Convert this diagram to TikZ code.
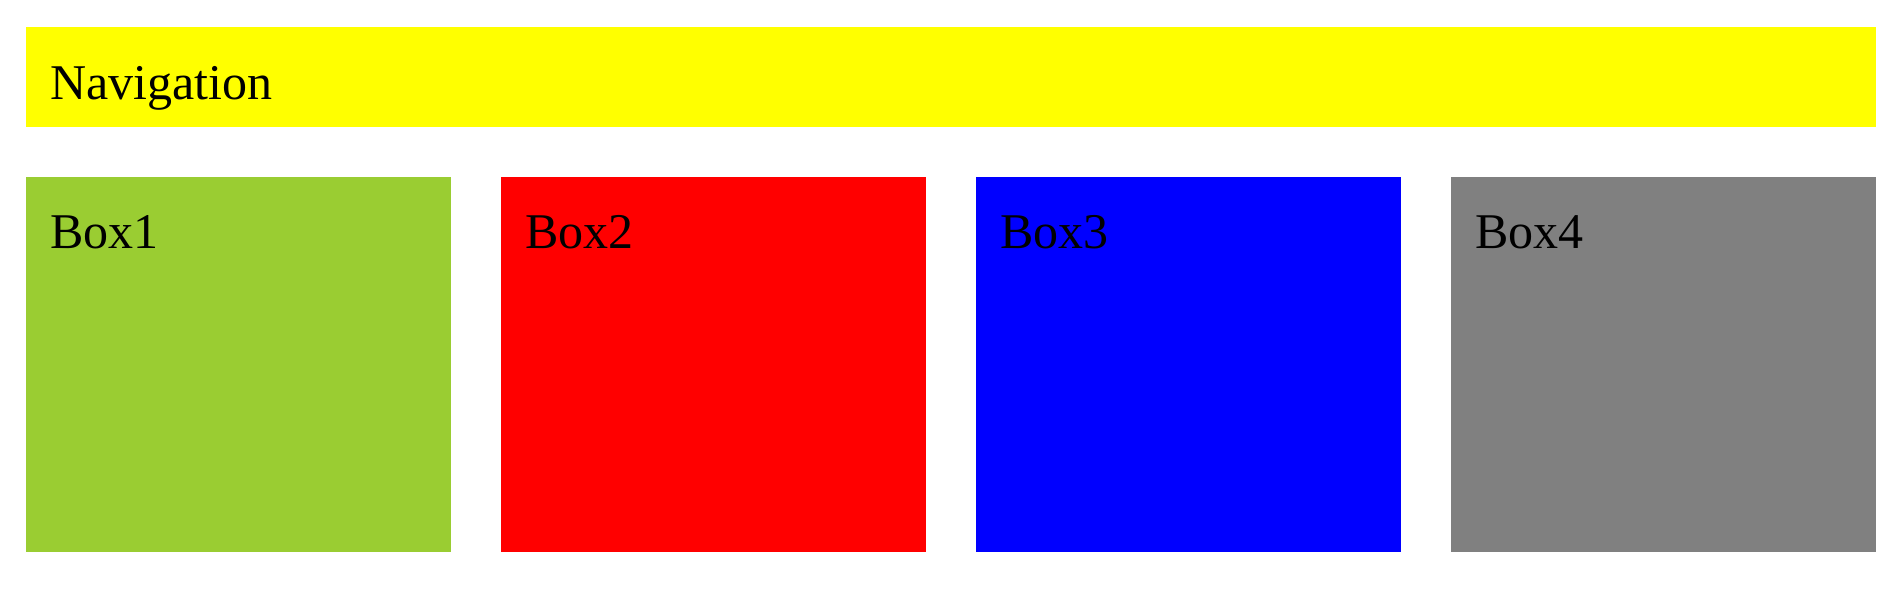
\documentclass[tikz,border=0pt]{standalone}
\usepackage{fontspec}
\setmainfont{Liberation Serif}
\usetikzlibrary{positioning}
\definecolor{navyellow}{HTML}{FFFF00}
\definecolor{yellowgreen}{HTML}{9ACD32}
\definecolor{boxred}{HTML}{FF0000}
\definecolor{boxblue}{HTML}{0000FF}
\definecolor{boxgray}{HTML}{808080}
\tikzset{
  panel/.style={rectangle,inner sep=0pt,outer sep=0pt,minimum width=212.5pt,minimum height=187.5pt},
  caption/.style={anchor=base west,inner sep=0pt,font=\fontsize{25}{30}\selectfont}
}
\begin{document}
\begin{tikzpicture}
\useasboundingbox (0,0) rectangle (948.5pt,-295pt);
\node (nav) [rectangle,inner sep=0pt,outer sep=0pt,minimum width=925pt,minimum height=50pt,fill=navyellow,anchor=north west] at (13pt,-13.5pt) {};

\node (box1) [panel,fill=yellowgreen,below right=25pt and 0pt of nav.south west] {};
\node (box2) [panel,fill=boxred,right=25pt of box1] {};
\node (box3) [panel,fill=boxblue,right=25pt of box2] {};
\node (box4) [panel,fill=boxgray,right=25pt of box3] {};

\node (navtext) [caption] at ([shift={(12pt,-36pt)}]nav.north west) {Navigation};
\node (box1text) [caption] at ([shift={(12pt,-35.5pt)}]box1.north west) {Box1};
\node (box2text) [caption] at ([shift={(12pt,-35.5pt)}]box2.north west) {Box2};
\node (box3text) [caption] at ([shift={(12pt,-35.5pt)}]box3.north west) {Box3};
\node (box4text) [caption] at ([shift={(12pt,-35.5pt)}]box4.north west) {Box4};
\end{tikzpicture}
\end{document}
